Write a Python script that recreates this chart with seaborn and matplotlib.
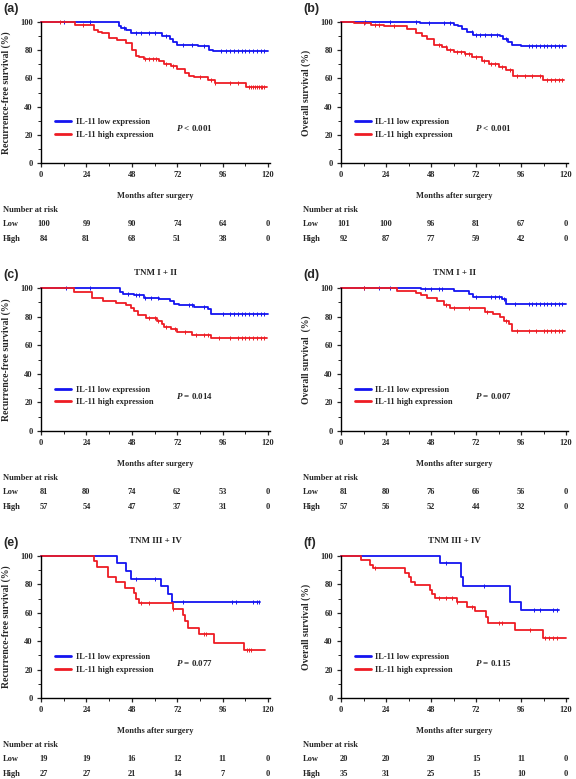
import numpy as np
import pandas as pd
import matplotlib
matplotlib.use('Agg')
import matplotlib.pyplot as plt
import matplotlib.transforms as mtrans
from matplotlib.ticker import MultipleLocator
import seaborn as sns

# ---- data (step curves: time, survival %) ----
a_low_t = [0, 41, 42.5, 45, 47.5, 64, 68, 69.5, 72, 83, 89, 91, 120]
a_low_s = [100, 97.5, 95.5, 94, 92, 90, 88, 86, 84, 83.3, 80.4, 79.2, 79.2]
a_low_c = [12, 26, 44, 50, 53, 57, 60, 66, 75, 80, 86, 95, 98, 100, 102, 104, 106, 108, 110, 112, 114, 116, 118]
a_high_t = [0, 18, 28, 30, 32, 36, 40, 45, 48, 50, 52, 54.5, 62.5, 65, 68.5, 72, 76, 78, 81, 88, 92, 108.5, 119.5]
a_high_s = [100, 98, 94, 93, 92, 89, 87, 85, 80, 76, 75, 74, 72, 70.5, 69, 67, 64, 62, 61, 59, 57, 54, 54]
a_high_c = [10, 22, 55, 57, 59, 61, 66, 70, 84, 90, 92, 100, 104, 110, 111, 112, 113, 114, 115, 116, 117, 118]

b_low_t = [0, 42, 52, 60, 62.5, 64.5, 67, 70.5, 84.5, 86.5, 89, 91, 96, 120]
b_low_s = [100, 99.6, 99.2, 98, 97, 95, 93, 91, 90, 88, 86, 84, 83, 83]
b_low_c = [13, 26, 40, 47, 55, 58, 70, 72, 74, 77, 80, 83, 88, 100, 102, 104, 106, 108, 110, 112, 114, 116, 118]
b_high_t = [0, 7, 16, 23, 35, 40, 43, 46, 49.4, 54, 56.5, 60, 66, 69.7, 75, 79, 84, 88, 91.7, 107.6, 119]
b_high_s = [100, 99, 98, 97, 95, 92, 90, 88, 84, 82, 80, 79, 77, 75, 72, 70, 68, 66, 62, 59, 59]
b_high_c = [12, 18, 20, 28, 52, 56, 58, 62, 64, 66, 68, 72, 76, 80, 82, 86, 90, 94, 98, 102, 106, 110, 112, 114, 116, 118]

c_low_t = [0, 42, 43.5, 49, 54.5, 62.5, 68, 70.5, 73, 81, 88, 90, 120]
c_low_s = [100, 97, 96, 95, 93, 92, 91, 89, 88, 87, 85, 82, 81.5]
c_low_c = [13, 26, 46, 50, 52, 55, 58, 62, 78, 80, 86, 96, 100, 102, 104, 106, 108, 110, 112, 114, 116, 118]
c_high_t = [0, 17.7, 27, 33, 39.5, 45, 47.5, 49, 51, 55.5, 61.5, 64, 65, 68.5, 72, 80, 90, 119.5]
c_high_s = [100, 97, 93, 91, 89.5, 88, 86, 84, 81, 79, 77, 75, 73, 71, 69.5, 67, 65, 65]
c_high_c = [57, 60, 62, 66, 71, 76, 82, 86, 88, 94, 100, 104, 106, 108, 110, 112, 114, 116, 118]

d_low_t = [0, 42.4, 60, 68, 70.6, 85.6, 88, 120]
d_low_s = [100, 99, 98, 96, 93.5, 92, 89, 88.5]
d_low_c = [12, 20, 26, 45, 48, 52, 54, 72, 80, 82, 84, 87, 93, 100, 102, 104, 106, 108, 110, 112, 114, 116, 118]
d_high_t = [0, 30, 40, 42.4, 45.9, 51, 54.7, 58, 76.8, 81, 84.7, 87, 89.6, 91, 119.5]
d_high_s = [100, 98, 96.5, 95, 93, 91, 88, 86, 83.5, 82, 80, 77, 74.5, 70, 70]
d_high_c = [12, 56, 60, 68, 78, 88, 94, 100, 104, 108, 110, 112, 114, 116, 118]

e_low_t = [0, 40, 44.8, 47.7, 63.5, 67, 69.2, 115.5]
e_low_s = [100, 95, 89.5, 84, 79, 73.5, 67.5, 67.5]
e_low_c = [50, 60, 75, 101, 103, 112, 114, 115]
e_high_t = [0, 28, 29.4, 35.5, 39.5, 44.2, 49, 50, 51.7, 69.6, 75.2, 76.2, 77.5, 83.6, 91.4, 107, 118.5]
e_high_s = [100, 96.5, 92.5, 85, 81.5, 77.7, 74, 70, 66.6, 62.6, 58.5, 54, 49.5, 45, 39, 33.5, 33.5]
e_high_c = [53, 57, 70, 86, 87, 109, 110, 111]

f_low_t = [0, 53, 64.2, 65.1, 89.9, 96, 116]
f_low_s = [100, 95, 85, 79, 67.5, 62, 62]
f_low_c = [56, 76, 103, 106, 113, 115]
f_high_t = [0, 10.6, 15.6, 17.3, 34, 36, 37.2, 39.5, 47.4, 48.3, 50, 61.6, 67, 71.3, 77.2, 78.4, 92.6, 107.6, 120]
f_high_s = [100, 97, 94, 91.5, 88, 85, 82, 79.5, 76, 73, 70.5, 67.5, 64, 61, 57, 53, 48, 42.5, 42.5]
f_high_c = [18, 52, 56, 59, 62, 70, 84, 86, 101, 109, 111, 113, 115]

months_ticks = [0, 24, 48, 72, 96, 120]
risk_low = {'a': [100, 99, 90, 74, 64, 0], 'b': [101, 100, 96, 81, 67, 0],
            'c': [81, 80, 74, 62, 53, 0], 'd': [81, 80, 76, 66, 56, 0],
            'e': [19, 19, 16, 12, 11, 0], 'f': [20, 20, 20, 15, 11, 0]}
risk_high = {'a': [84, 81, 68, 51, 38, 0], 'b': [92, 87, 77, 59, 42, 0],
             'c': [57, 54, 47, 37, 31, 0], 'd': [57, 56, 52, 44, 32, 0],
             'e': [27, 27, 21, 14, 7, 0], 'f': [35, 31, 25, 15, 10, 0]}
p_values = {'a': '< 0.001', 'b': '< 0.001', 'c': '= 0.014', 'd': '= 0.007', 'e': '= 0.077', 'f': '= 0.115'}
titles = {'a': None, 'b': None, 'c': 'TNM I + II', 'd': 'TNM I + II', 'e': 'TNM III + IV', 'f': 'TNM III + IV'}
ylabels = {'a': 'Recurrence-free survival (%)', 'b': 'Overall survival (%)',
           'c': 'Recurrence-free survival (%)', 'd': 'Overall survival  (%)',
           'e': 'Recurrence-free survival (%)', 'f': 'Overall survival (%)'}

curves = {'a': (a_low_t, a_low_s, a_low_c, a_high_t, a_high_s, a_high_c),
          'b': (b_low_t, b_low_s, b_low_c, b_high_t, b_high_s, b_high_c),
          'c': (c_low_t, c_low_s, c_low_c, c_high_t, c_high_s, c_high_c),
          'd': (d_low_t, d_low_s, d_low_c, d_high_t, d_high_s, d_high_c),
          'e': (e_low_t, e_low_s, e_low_c, e_high_t, e_high_s, e_high_c),
          'f': (f_low_t, f_low_s, f_low_c, f_high_t, f_high_s, f_high_c)}

# ---- style ----
sns.set_theme(style='ticks')
plt.rcParams['font.family'] = ['Liberation Serif', 'DejaVu Serif']
plt.rcParams['font.weight'] = 'bold'
plt.rcParams['mathtext.fontset'] = 'custom'
plt.rcParams['mathtext.it'] = 'Liberation Serif:italic:bold'
plt.rcParams['mathtext.rm'] = 'Liberation Serif:bold'

BLUE = '#1414F0'
RED = '#EE1C24'
W, H = 576, 779

fig = plt.figure(figsize=(W / 100, H / 100), dpi=100)

# axes boxes in pixels: left, top, right, bottom
boxes = {'a': (41, 22, 270, 163), 'b': (341, 22, 568, 163),
         'c': (41, 288, 270, 431), 'd': (341, 288, 568, 431),
         'e': (41, 556, 270, 698), 'f': (341, 556, 568, 698)}


def km_line(ax, t, s, cens, color, label):
    df = pd.DataFrame({'t': t, 's': s})
    sns.lineplot(data=df, x='t', y='s', ax=ax, color=color, lw=1.3,
                 drawstyle='steps-post', estimator=None, sort=False,
                 label=label, clip_on=False)
    t_arr = np.asarray(t)
    s_arr = np.asarray(s)
    cy = s_arr[np.searchsorted(t_arr, cens, side='right') - 1]
    ax.plot(cens, cy, ls='none', marker='|', ms=3.5, mew=0.7, color=color, clip_on=False)


for key, (l, t, r, b) in boxes.items():
    ax = fig.add_axes([l / W, 1 - b / H, (r - l) / W, (b - t) / H])
    lt, ls_, lc, ht, hs, hc = curves[key]
    km_line(ax, lt, ls_, lc, BLUE, 'IL-11 low expression')
    km_line(ax, ht, hs, hc, RED, 'IL-11 high expression')

    ax.set_xlim(0, 121)
    ax.set_ylim(0, 100)
    ax.set_xticks(months_ticks)
    ax.set_yticks([0, 20, 40, 60, 80, 100])
    ax.xaxis.set_minor_locator(MultipleLocator(12))
    ax.yaxis.set_minor_locator(MultipleLocator(10))
    ax.tick_params(which='major', direction='out', length=3, width=0.9, labelsize=6, pad=3)
    ax.tick_params(which='minor', direction='out', length=2, width=0.7)
    for sp in ['top', 'right']:
        ax.spines[sp].set_visible(False)
    for sp in ['left', 'bottom']:
        ax.spines[sp].set_linewidth(1.0)
        ax.spines[sp].set_color('black')
    for lab in ax.get_xticklabels() + ax.get_yticklabels():
        lab.set_fontweight('bold')

    ax.set_xlabel('Months after surgery', fontsize=6, fontweight='bold')
    ax.xaxis.set_label_coords(0.5, -29 / (b - t))
    ax.set_ylabel(ylabels[key], fontsize=7, fontweight='bold', va='center')
    ax.yaxis.set_label_coords(-35 / (r - l), 0.5)

    leg = ax.legend(loc='center left', bbox_to_anchor=(0.06, 0.245), frameon=False,
                    fontsize=6, handlelength=2.0, handletextpad=0.5, labelspacing=0.55,
                    borderpad=0, borderaxespad=0)
    for hl in leg.get_lines():
        hl.set_linewidth(2.0)
    for txt in leg.get_texts():
        txt.set_fontweight('bold')

    ax.text(0.59, 0.245, r'$P$ ' + p_values[key], transform=ax.transAxes,
            fontsize=6.5, fontweight='bold', ha='left', va='center')

    if titles[key]:
        fig.text((l + r) / 2 / W, 1 - (t - 15) / H, titles[key], ha='center', va='center',
                 fontsize=6.5, fontweight='bold')

    # panel letter
    fig.text((l - 38) / W, 1 - (t - 13) / H, f'({key})', ha='left', va='center',
             fontsize=9, fontweight='bold', family=['Liberation Sans', 'DejaVu Sans'])

    # number at risk table
    tr = mtrans.blended_transform_factory(ax.transData, fig.transFigure)
    x0 = (l - 38) / W
    fig.text(x0, 1 - (b + 47) / H, 'Number at risk', ha='left', va='center', fontsize=6, fontweight='bold')
    fig.text(x0, 1 - (b + 61) / H, 'Low', ha='left', va='center', fontsize=6, fontweight='bold')
    fig.text(x0, 1 - (b + 76) / H, 'High', ha='left', va='center', fontsize=6, fontweight='bold')
    for i, m in enumerate(months_ticks):
        xm = m + 1.5 if i == 0 else m
        ax.text(xm, 1 - (b + 61) / H, str(risk_low[key][i]), transform=tr,
                ha='center', va='center', fontsize=6, fontweight='bold')
        ax.text(xm, 1 - (b + 76) / H, str(risk_high[key][i]), transform=tr,
                ha='center', va='center', fontsize=6, fontweight='bold')

fig.savefig('out.png', dpi=100)
